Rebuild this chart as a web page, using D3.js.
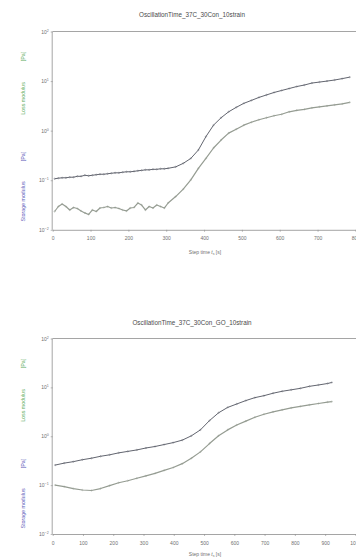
<!DOCTYPE html>
<html>
<head>
<meta charset="utf-8">
<script src="https://cdn.jsdelivr.net/npm/d3@7/dist/d3.min.js"></script>
<style>
  html, body { margin: 0; padding: 0; background: #fff; }
  svg { display: block; font-family: Arial, "Liberation Sans", sans-serif; }
</style>
</head>
<body>
<svg id="chart" width="356" height="558"></svg>
<script>
// ---- Panel 1: OscillationTime_37C_30Con_10strain ----
const titleA = "OscillationTime_37C_30Con_10strain";
const timeA = [5, 15, 25, 35, 45, 55, 65, 75, 85, 95, 105, 115, 125, 135, 145, 155, 165, 175, 185, 195,
  205, 215, 225, 235, 245, 255, 265, 275, 285, 295, 305,
  325, 345, 365, 385, 405, 425, 445, 465, 485, 505, 525, 545, 565, 585, 605, 625, 645, 665, 685,
  705, 725, 745, 765, 785];
// storage modulus G' [Pa]
const storageA = [0.107, 0.110, 0.112, 0.112, 0.115, 0.115, 0.120, 0.120, 0.126, 0.123, 0.126, 0.129,
  0.132, 0.132, 0.135, 0.138, 0.141, 0.141, 0.145, 0.148, 0.148, 0.151, 0.155, 0.158, 0.162, 0.162,
  0.166, 0.166, 0.170, 0.170, 0.174,
  0.186, 0.219, 0.275, 0.407, 0.759, 1.29, 1.82, 2.40, 2.95, 3.55, 4.07, 4.68, 5.25, 5.89, 6.46,
  7.08, 7.76, 8.32, 9.12, 9.55, 10.0, 10.5, 11.2, 12.0];
// loss modulus G'' [Pa]
const lossA = [0.0234, 0.0295, 0.0331, 0.0295, 0.0251, 0.0282, 0.0269, 0.0240, 0.0219, 0.0204, 0.0251,
  0.0234, 0.0275, 0.0282, 0.0295, 0.0275, 0.0282, 0.0269, 0.0251, 0.0240, 0.0275, 0.0282, 0.0347,
  0.0316, 0.0251, 0.0295, 0.0275, 0.0316, 0.0295, 0.0275, 0.0347,
  0.0468, 0.0661, 0.102, 0.174, 0.275, 0.447, 0.646, 0.891, 1.07, 1.29, 1.48, 1.66, 1.82, 2.00,
  2.14, 2.40, 2.57, 2.69, 2.88, 3.02, 3.16, 3.31, 3.47, 3.72];
const xTicksA = [0, 100, 200, 300, 400, 500, 600, 700, 800];

// ---- Panel 2: OscillationTime_37C_30Con_GO_10strain ----
const titleB = "OscillationTime_37C_30Con_GO_10strain";
const timeB = [8, 38, 68, 98, 128, 158, 188, 218, 248, 278, 308, 338, 368, 398, 428, 458, 488, 518,
  548, 578, 608, 638, 668, 698, 728, 758, 788, 818, 848, 878, 908, 922];
const storageB = [0.257, 0.282, 0.302, 0.331, 0.355, 0.389, 0.417, 0.457, 0.490, 0.525, 0.575, 0.617,
  0.676, 0.741, 0.832, 1.02, 1.35, 2.09, 3.02, 3.89, 4.57, 5.37, 6.17, 6.76, 7.59, 8.32, 8.91, 9.55,
  10.5, 11.2, 12.0, 12.6];
const lossB = [0.100, 0.0933, 0.0851, 0.0794, 0.0776, 0.0851, 0.0977, 0.112, 0.123, 0.138, 0.155, 0.174,
  0.200, 0.229, 0.275, 0.355, 0.479, 0.708, 1.02, 1.35, 1.70, 2.04, 2.45, 2.82, 3.16, 3.47, 3.80, 4.07,
  4.37, 4.68, 5.01, 5.13];
const xTicksB = [0, 100, 200, 300, 400, 500, 600, 700, 800, 900, 1000];

// shared log axis decades
const yExponents = [-2, -1, 0, 1, 2];
const xTitle = "Step time";
const storageTitle = "Storage modulus";
const lossTitle = "Loss modulus";
const unit = "[Pa]";

const svg = d3.select("#chart");

const colStorage = "#62656f";
const colLoss = "#959c92";
const colAxis = "#8e8e8e";
const colText = "#707070";

function supText(sel, exp) {
  sel.text(null);
  sel.append("tspan").text("10");
  sel.append("tspan").attr("dy", -2).attr("font-size", 3.6)
    .text(exp < 0 ? "\u2212" + Math.abs(exp) : String(exp));
}

function panel(cfg) {
  const g = svg.append("g");
  const x = d3.scaleLinear().domain([0, cfg.xMax]).range([52.7, 355.4]);
  const y = d3.scaleLog().domain([1e-2, 1e2]).range([cfg.bottom, cfg.top]);

  // title
  g.append("text").attr("x", 192).attr("y", cfg.titleY).attr("text-anchor", "middle")
    .attr("font-size", 6.3).attr("fill", "#4a4a4a").text(cfg.title);

  // frame: top border line
  g.append("line").attr("x1", 52.7).attr("x2", 356).attr("y1", cfg.top).attr("y2", cfg.top)
    .attr("stroke", colAxis).attr("stroke-width", 0.8);

  // x axis
  const xa = g.append("g").attr("transform", `translate(0,${cfg.bottom})`)
    .call(d3.axisBottom(x).tickValues(cfg.xTicks).tickSize(2).tickPadding(5).tickFormat(d3.format("d")));
  xa.select(".domain").attr("stroke", colAxis).attr("stroke-width", 0.8);
  xa.selectAll(".tick line").attr("stroke", colAxis).attr("stroke-width", 0.6);
  xa.selectAll(".tick text").attr("font-size", 5).attr("fill", colText).attr("font-family", "Arial, Liberation Sans, sans-serif");
  xa.select(".domain").attr("d", `M52.7,0.5H356`);

  // y axis
  const ya = g.append("g").attr("transform", "translate(52.7,0)")
    .call(d3.axisLeft(y).tickValues(yExponents.map(e => Math.pow(10, e))).tickSize(2).tickPadding(2));
  ya.select(".domain").attr("stroke", colAxis).attr("stroke-width", 0.8)
    .attr("d", `M-0.5,${cfg.top}V${cfg.bottom}`);
  ya.selectAll(".tick line").attr("stroke", colAxis).attr("stroke-width", 0.6);
  ya.selectAll(".tick text").attr("font-size", 5).attr("fill", colText)
    .attr("font-family", "Arial, Liberation Sans, sans-serif")
    .each(function (d) { supText(d3.select(this), Math.round(Math.log10(d))); });

  // x axis title
  const xt = g.append("text").attr("x", 205).attr("y", cfg.xTitleY).attr("text-anchor", "middle")
    .attr("font-size", 5).attr("fill", colText);
  xt.append("tspan").text(xTitle + "  ");
  xt.append("tspan").attr("font-style", "italic").text("t");
  xt.append("tspan").attr("font-size", 3.5).attr("dy", 1).text("s");
  xt.append("tspan").attr("dy", -1).text("  [s]");

  // rotated y titles
  const yTitle = (txt, cy, color) => g.append("text")
    .attr("transform", `translate(25,${cy}) rotate(-90)`)
    .attr("text-anchor", "middle").attr("font-size", 5.3).attr("fill", color).text(txt);
  yTitle(lossTitle, cfg.top + 67, "#62ad5e");
  yTitle(unit, cfg.top + 25, "#62ad5e");
  yTitle(storageTitle, cfg.top + 170, "#5a58b8");
  yTitle(unit, cfg.top + 125, "#5a58b8");

  const line = d3.line().x(d => x(d[0])).y(d => y(d[1]));
  const draw = (vals, color, w) => {
    const pts = cfg.time.map((t, i) => [t, vals[i]]);
    g.append("path").datum(pts).attr("d", line).attr("fill", "none")
      .attr("stroke", color).attr("stroke-width", w).attr("stroke-linejoin", "round");
    g.append("g").selectAll("circle").data(pts).join("circle")
      .attr("cx", d => x(d[0])).attr("cy", d => y(d[1])).attr("r", 0.7)
      .attr("fill", "none").attr("stroke", color).attr("stroke-width", 0.4);
  };
  draw(cfg.loss, colLoss, 1.2);
  draw(cfg.storage, colStorage, 1.0);
}

panel({ title: titleA, titleY: 17, top: 31.5, bottom: 229.8, xMax: 800, xTicks: xTicksA,
  xTitleY: 254, time: timeA, storage: storageA, loss: lossA });
panel({ title: titleB, titleY: 324.5, top: 338.5, bottom: 534, xMax: 1000, xTicks: xTicksB,
  xTitleY: 556, time: timeB, storage: storageB, loss: lossB });
</script>
</body>
</html>
